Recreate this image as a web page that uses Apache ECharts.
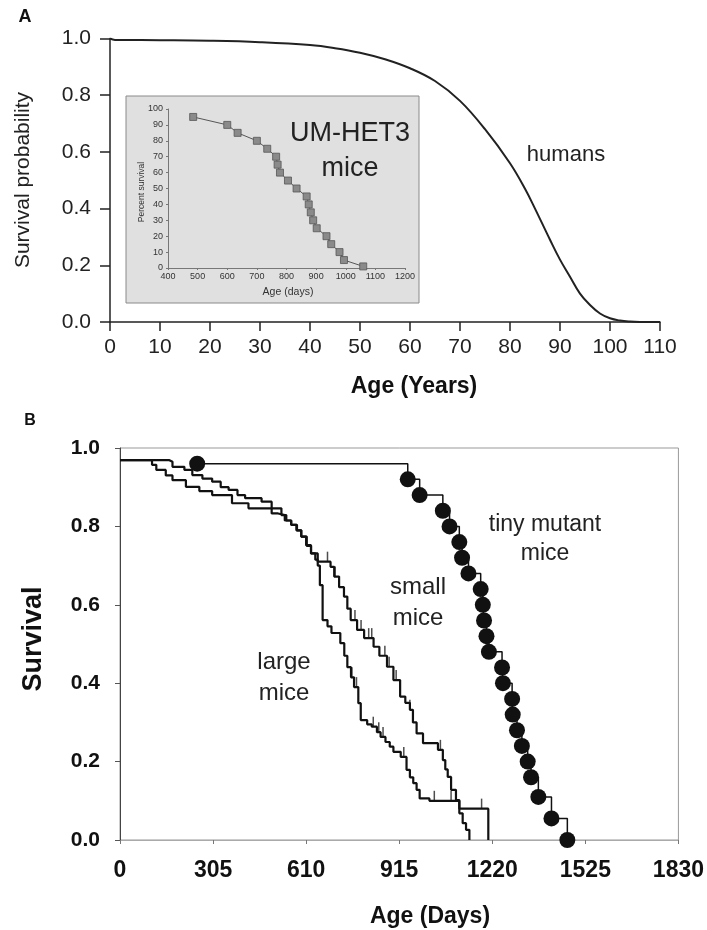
<!DOCTYPE html>
<html>
<head>
<meta charset="utf-8">
<script src="https://cdn.jsdelivr.net/npm/echarts@6/dist/echarts.min.js"></script>
<style>
html,body{margin:0;padding:0;background:#fff;}
#chart{width:707px;height:930px;}
</style>
</head>
<body>
<div id="chart"></div>
<script>
// ---------- Panel A: human survival ----------
const humanAge  = [0, 1, 10, 20, 30, 40, 45, 50, 55, 60, 65, 70, 75, 80, 83, 85, 88, 90, 92, 94, 96, 98, 100, 102, 104, 106, 110];
const humanSurv = [1.0, 0.995, 0.994, 0.992, 0.987, 0.977, 0.966, 0.95, 0.927, 0.895, 0.85, 0.78, 0.68, 0.56, 0.47, 0.40, 0.29, 0.22, 0.16, 0.10, 0.06, 0.03, 0.013, 0.005, 0.0015, 0.0003, 0.0];

// ---------- Panel A inset: UM-HET3 mice ----------
const insetDays = [485, 600, 635, 700, 735, 765, 770, 778, 805, 834, 868, 875, 882, 890, 902, 935, 951, 979, 994, 1059];
const insetPct  = [95, 90, 85, 80, 75, 70, 65, 60, 55, 50, 45, 40, 35, 30, 25, 20, 15, 10, 5, 1];

// ---------- Panel B: mice survival (Kaplan-Meier steps) ----------
const smallDays = [0, 105, 119, 150, 172, 216, 260, 302, 367, 421, 497, 518, 540, 561, 580, 594, 610, 626, 648, 690, 702, 718, 734, 745, 756, 777, 800, 831, 850, 875, 896, 918, 935, 950, 960, 972, 993, 1042, 1058, 1066, 1074, 1085, 1101, 1112, 1207];
const smallSurv = [0.969, 0.957, 0.944, 0.93, 0.918, 0.901, 0.89, 0.88, 0.859, 0.846, 0.833, 0.829, 0.815, 0.804, 0.79, 0.774, 0.752, 0.731, 0.71, 0.697, 0.672, 0.645, 0.621, 0.59, 0.561, 0.536, 0.515, 0.493, 0.47, 0.442, 0.408, 0.366, 0.35, 0.332, 0.30, 0.272, 0.247, 0.23, 0.204, 0.18, 0.161, 0.128, 0.102, 0.08, 0.0];

const largeDays = [0, 162, 172, 211, 237, 270, 302, 330, 356, 385, 410, 464, 497, 529, 545, 561, 578, 594, 612, 626, 640, 648, 655, 664, 680, 693, 722, 735, 745, 757, 767, 781, 789, 810, 825, 842, 854, 870, 884, 896, 920, 939, 950, 961, 972, 982, 1014, 1112, 1123, 1134, 1145];
const largeSurv = [0.969, 0.965, 0.952, 0.944, 0.931, 0.922, 0.914, 0.90, 0.893, 0.88, 0.872, 0.863, 0.846, 0.829, 0.815, 0.804, 0.79, 0.774, 0.75, 0.731, 0.715, 0.70, 0.65, 0.561, 0.545, 0.528, 0.502, 0.47, 0.441, 0.415, 0.39, 0.349, 0.306, 0.295, 0.289, 0.275, 0.263, 0.25, 0.238, 0.225, 0.212, 0.179, 0.16, 0.145, 0.128, 0.106, 0.10, 0.068, 0.043, 0.026, 0.0];

const smallCensorDays = [680, 705, 770, 790, 815, 825, 868, 882, 905, 950, 1050, 1185];
const smallCensorSurv = [0.71, 0.672, 0.561, 0.536, 0.515, 0.515, 0.47, 0.442, 0.408, 0.332, 0.23, 0.08];
const largeCensorDays = [760, 775, 830, 848, 862, 930, 1030, 1085];
const largeCensorSurv = [0.415, 0.39, 0.289, 0.275, 0.263, 0.212, 0.10, 0.10];

const tinyDays = [253, 943, 982, 1058, 1080, 1112, 1121, 1142, 1182, 1189, 1193, 1201, 1209, 1252, 1255, 1285, 1287, 1301, 1317, 1336, 1347, 1371, 1414, 1466];
const tinySurv = [0.96, 0.92, 0.88, 0.84, 0.80, 0.76, 0.72, 0.68, 0.64, 0.60, 0.56, 0.52, 0.48, 0.44, 0.40, 0.36, 0.32, 0.28, 0.24, 0.20, 0.16, 0.11, 0.055, 0.0];

const zip = (a, b) => a.map((v, i) => [v, b[i]]);
const FF = '"Liberation Sans", Arial, Helvetica, sans-serif';
const plain = v => String(v);

const chart = echarts.init(document.getElementById('chart'), null, {renderer: 'canvas'});

function txt(text, x, y, size, weight, opts) {
  opts = opts || {};
  return {
    type: 'text', x: x, y: y, rotation: opts.rotation || 0, z: 10,
    style: {
      text: text, fill: opts.color || '#111', align: 'center', verticalAlign: 'middle',
      font: (weight || 'normal') + ' ' + size + 'px ' + FF, lineHeight: opts.lineHeight || size
    }
  };
}

const option = {
  animation: false,
  backgroundColor: '#fff',
  grid: [
    {left: 110, top: 38.5, width: 550, height: 283.5},
    {left: 168, top: 109, width: 237, height: 159},
    {left: 120, top: 448, width: 565, height: 392, show: true, borderColor: '#999', borderWidth: 1}
  ],
  xAxis: [
    {gridIndex: 0, type: 'value', min: 0, max: 110, interval: 10,
     axisLine: {onZero: false, lineStyle: {color: '#222', width: 1.5}},
     axisTick: {show: true, length: 9, lineStyle: {color: '#222', width: 1.5}},
     axisLabel: {fontSize: 21, color: '#222', margin: 15, fontFamily: FF, formatter: plain},
     splitLine: {show: false}},
    {gridIndex: 1, type: 'value', min: 400, max: 1200, interval: 100,
     axisLine: {onZero: false, lineStyle: {color: '#777', width: 1}},
     axisTick: {show: true, length: 2, lineStyle: {color: '#777'}},
     axisLabel: {fontSize: 9, color: '#333', margin: 4, fontFamily: FF, formatter: plain},
     splitLine: {show: false}},
    {gridIndex: 2, type: 'value', min: 0, max: 1830, interval: 305,
     axisLine: {onZero: false, lineStyle: {color: '#aaa', width: 1}},
     axisTick: {show: true, length: 4, lineStyle: {color: '#777'}},
     axisLabel: {fontSize: 23, fontWeight: 'bold', color: '#111', margin: 19, fontFamily: FF, formatter: plain},
     splitLine: {show: false}}
  ],
  yAxis: [
    {gridIndex: 0, type: 'value', min: 0, max: 1, interval: 0.2,
     axisLine: {show: true, onZero: false, lineStyle: {color: '#222', width: 1.5}},
     axisTick: {show: true, length: 10, lineStyle: {color: '#222', width: 1.5}},
     axisLabel: {fontSize: 21, color: '#222', margin: 19, fontFamily: FF, formatter: v => v.toFixed(1)},
     splitLine: {show: false}},
    {gridIndex: 1, type: 'value', min: 0, max: 100, interval: 10,
     axisLine: {show: true, onZero: false, lineStyle: {color: '#777', width: 1}},
     axisTick: {show: true, length: 2, lineStyle: {color: '#777'}},
     axisLabel: {fontSize: 9, color: '#333', margin: 5, fontFamily: FF, formatter: plain},
     splitLine: {show: false}},
    {gridIndex: 2, type: 'value', min: 0, max: 1, interval: 0.2,
     axisLine: {show: true, onZero: false, lineStyle: {color: '#444', width: 1}},
     axisTick: {show: true, length: 5, lineStyle: {color: '#555'}},
     axisLabel: {fontSize: 21, fontWeight: 'bold', color: '#111', margin: 20, fontFamily: FF, formatter: v => v.toFixed(1)},
     splitLine: {show: false}}
  ],
  series: [
    {type: 'line', xAxisIndex: 0, yAxisIndex: 0, data: zip(humanAge, humanSurv), smooth: 0.4,
     showSymbol: false, lineStyle: {color: '#222', width: 2}},
    {type: 'line', xAxisIndex: 1, yAxisIndex: 1, data: zip(insetDays, insetPct),
     symbol: 'rect', symbolSize: 7,
     itemStyle: {color: '#8a8a8a', borderColor: '#555', borderWidth: 0.8},
     lineStyle: {color: '#555', width: 1}},
    {type: 'line', xAxisIndex: 2, yAxisIndex: 2, data: zip(smallDays, smallSurv), step: 'end',
     showSymbol: false, lineStyle: {color: '#111', width: 2.2}},
    {type: 'line', xAxisIndex: 2, yAxisIndex: 2, data: zip(largeDays, largeSurv), step: 'end',
     showSymbol: false, lineStyle: {color: '#111', width: 2.2}},
    {type: 'scatter', xAxisIndex: 2, yAxisIndex: 2, data: zip(smallCensorDays, smallCensorSurv),
     symbol: 'rect', symbolSize: [1.5, 10], symbolOffset: [0, '-50%'], itemStyle: {color: '#222'}},
    {type: 'scatter', xAxisIndex: 2, yAxisIndex: 2, data: zip(largeCensorDays, largeCensorSurv),
     symbol: 'rect', symbolSize: [1.5, 10], symbolOffset: [0, '-50%'], itemStyle: {color: '#222'}},
    {type: 'line', xAxisIndex: 2, yAxisIndex: 2, data: zip(tinyDays, tinySurv), step: 'end',
     symbol: 'circle', symbolSize: 16, showAllSymbol: true,
     itemStyle: {color: '#111'}, lineStyle: {color: '#111', width: 1.5}, z: 5}
  ],
  graphic: [
    {type: 'rect', z: -1, shape: {x: 126, y: 96, width: 293, height: 207},
     style: {fill: '#e0e0e0', stroke: '#8a8a8a', lineWidth: 1}},
    txt('A', 25, 17, 18, 'bold'),
    txt('B', 30, 421, 16, 'bold'),
    txt('Survival probability', 23, 180, 21, 'normal', {rotation: Math.PI / 2, color: '#222'}),
    txt('Age (Years)', 414, 387, 23, 'bold'),
    txt('humans', 566, 155, 22, 'normal', {color: '#222'}),
    txt('UM-HET3', 350, 134, 27, 'normal', {color: '#222'}),
    txt('mice', 350, 169, 27, 'normal', {color: '#222'}),
    txt('Percent survival', 142, 192, 8.5, 'normal', {rotation: Math.PI / 2, color: '#333'}),
    txt('Age (days)', 288, 292, 10.5, 'normal', {color: '#333'}),
    txt('Survival', 34, 639, 27, 'bold', {rotation: Math.PI / 2}),
    txt('Age (Days)', 430, 917, 23, 'bold'),
    txt('tiny mutant', 545, 525, 23, 'normal', {color: '#222'}),
    txt('mice', 545, 554, 23, 'normal', {color: '#222'}),
    txt('small', 418, 587, 24, 'normal', {color: '#222'}),
    txt('mice', 418, 618, 24, 'normal', {color: '#222'}),
    txt('large', 284, 662, 24, 'normal', {color: '#222'}),
    txt('mice', 284, 693, 24, 'normal', {color: '#222'})
  ]
};
chart.setOption(option);
</script>
</body>
</html>
